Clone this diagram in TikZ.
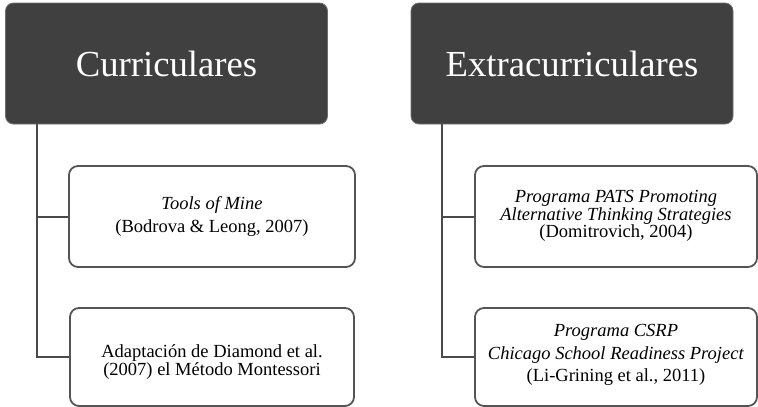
\documentclass[tikz,border=0pt]{standalone}
\usepackage{fontspec}
\setmainfont{Liberation Serif}
\definecolor{hdrfill}{HTML}{404040}
\definecolor{hdrline}{HTML}{6E6E6E}
\definecolor{boxline}{HTML}{555555}
\definecolor{connline}{HTML}{4A4A4A}
\begin{document}
\begin{tikzpicture}[x=1pt,y=-1pt,
  hdr/.style={rectangle, rounded corners=8pt, fill=hdrfill, draw=hdrline, line width=0.8pt,
    text=white, font=\fontsize{36.7}{40}\selectfont, text height=25pt, text depth=0pt,
    minimum width=322pt, minimum height=121pt, inner sep=0pt},
  itembox/.style={rectangle, rounded corners=9pt, draw=boxline, line width=1.8pt,
    minimum height=100pt, inner sep=0pt},
  itemtext/.style={align=center, inner sep=0pt, text=black},
  conn/.style={draw=connline, line width=2pt}]
\useasboundingbox (0,0) rectangle (758,407);
% headers
\node[hdr] (h1) at (166.5,63.5) {Curriculares};
\node[hdr] (h2) at (572,63.5) {Extracurriculares};
% boxes
\node[itembox, minimum width=286pt, minimum height=101pt] (l1) at (212,216.5) {};
\node[itembox, minimum width=284pt, minimum height=98pt] (l2) at (212,357) {};
\node[itembox, minimum width=282pt, minimum height=101pt] (r1) at (616,216.5) {};
\node[itembox, minimum width=282pt, minimum height=98pt] (r2) at (616,357) {};
% texts
\node[itemtext, font=\fontsize{18.5}{23.4}\selectfont] (tl1) at (212,216.7)
  {\textit{Tools of Mine}\\(Bodrova \& Leong, 2007)};
\node[itemtext, font=\fontsize{18.5}{16.7}\selectfont] (tl2) at (212,362)
  {Adaptación de Diamond et al.\\(2007) el Método Montessori};
\node[itemtext, font=\fontsize{18.5}{16.3}\selectfont] (tr1) at (616,216)
  {\textit{Programa PATS Promoting}\\\textit{Alternative Thinking Strategies}\\(Domitrovich, 2004)};
\node[itemtext, font=\fontsize{18.5}{22.5}\selectfont] (tr2) at (616,355)
  {\textit{Programa CSRP}\\\textit{Chicago School Readiness Project}\\(Li-Grining et al., 2011)};
% connectors
\coordinate (tl) at ([xshift=31.5pt]h1.south west);
\coordinate (tr) at ([xshift=31pt]h2.south west);
\draw[conn] (tl) |- (l2.west);
\draw[conn] (l1.west) -- (l1.west -| tl);
\draw[conn] (tr) |- (r2.west);
\draw[conn] (r1.west) -- (r1.west -| tr);
\end{tikzpicture}
\end{document}
